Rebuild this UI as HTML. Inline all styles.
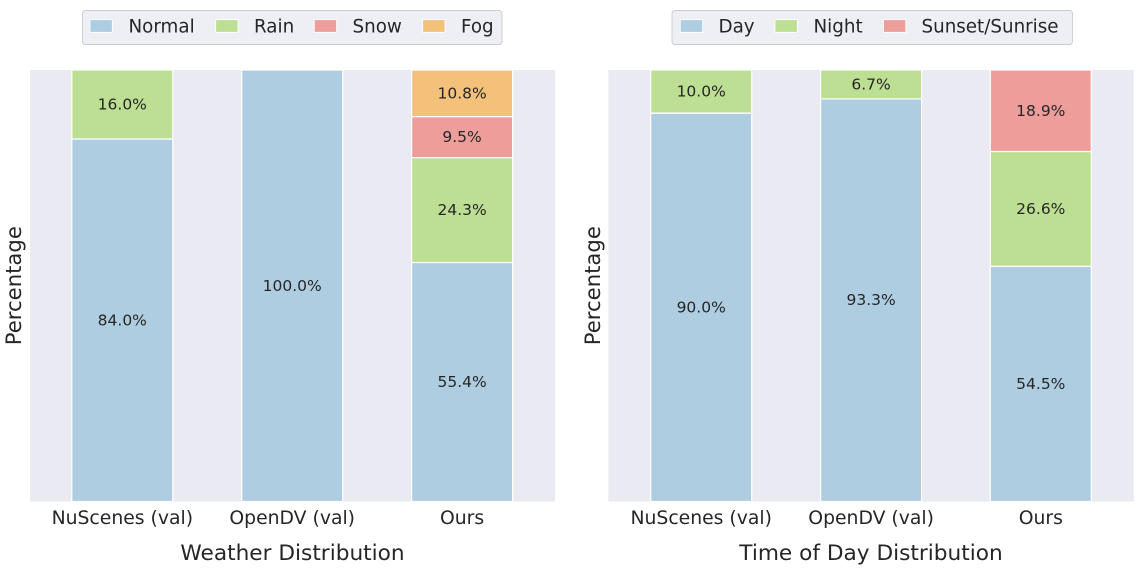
<!DOCTYPE html>
<html>
<head>
<meta charset="utf-8">
<style>
  html, body { margin: 0; padding: 0; background: #ffffff; }
  svg { display: block; }
  text { font-family: "DejaVu Sans", "Liberation Sans", sans-serif; fill: #262626; }
</style>
</head>
<body>
<svg width="1140" height="570" viewBox="0 0 1140 570" xmlns="http://www.w3.org/2000/svg">
  <rect x="0" y="0" width="1140" height="570" fill="#ffffff"/>

  <!-- ================= LEFT: Weather ================= -->
  <rect x="30" y="70" width="525" height="431.5" fill="#eaeaf2"/>
  <g stroke="#ffffff" stroke-width="1.2">
    <rect x="71.8" y="139.0" width="101" height="362.5" fill="#aecde1"/>
    <rect x="71.8" y="70" width="101" height="69" fill="#bddf93"/>
    <rect x="241.7" y="70" width="101" height="431.5" fill="#aecde1"/>
    <rect x="411.6" y="262.5" width="101" height="239" fill="#aecde1"/>
    <rect x="411.6" y="157.6" width="101" height="104.9" fill="#bddf93"/>
    <rect x="411.6" y="116.6" width="101" height="41" fill="#ed9e9a"/>
    <rect x="411.6" y="70" width="101" height="46.6" fill="#f4c17b"/>
  </g>
  <g font-size="15.5" text-anchor="middle" dominant-baseline="central">
    <text x="122.3" y="104.5">16.0%</text>
    <text x="122.3" y="320.3">84.0%</text>
    <text x="292.2" y="285.8">100.0%</text>
    <text x="462.1" y="382">55.4%</text>
    <text x="462.1" y="210">24.3%</text>
    <text x="462.1" y="137.1">9.5%</text>
    <text x="462.1" y="93.3">10.8%</text>
  </g>
  <g font-size="18.8" text-anchor="middle">
    <text x="122.3" y="524">NuScenes (val)</text>
    <text x="292.2" y="524">OpenDV (val)</text>
    <text x="462.1" y="524">Ours</text>
  </g>
  <text x="292.5" y="560" font-size="21.65" text-anchor="middle">Weather Distribution</text>
  <text transform="translate(21,285.7) rotate(-90)" font-size="21.2" text-anchor="middle">Percentage</text>

  <rect x="82.5" y="10.5" width="419.5" height="34" rx="3" ry="3" fill="#eeeef5" stroke="#cccccc" stroke-width="0.9"/>
  <g stroke="#ffffff" stroke-width="0.8">
    <rect x="90" y="19.7" width="22.3" height="12.6" fill="#aecde1"/>
    <rect x="215.7" y="19.7" width="22.3" height="12.6" fill="#bddf93"/>
    <rect x="314.3" y="19.7" width="22.3" height="12.6" fill="#ed9e9a"/>
    <rect x="422.7" y="19.7" width="22.3" height="12.6" fill="#f4c17b"/>
  </g>
  <g font-size="18.3">
    <text x="128.5" y="32.3">Normal</text>
    <text x="254" y="32.3">Rain</text>
    <text x="352.5" y="32.3">Snow</text>
    <text x="461" y="32.3">Fog</text>
  </g>

  <!-- ================= RIGHT: Time of Day ================= -->
  <rect x="608.3" y="70" width="525.4" height="431.5" fill="#eaeaf2"/>
  <g stroke="#ffffff" stroke-width="1.2">
    <rect x="650.7" y="113.1" width="101" height="388.4" fill="#aecde1"/>
    <rect x="650.7" y="70" width="101" height="43.1" fill="#bddf93"/>
    <rect x="820.6" y="98.9" width="101" height="402.6" fill="#aecde1"/>
    <rect x="820.6" y="70" width="101" height="28.9" fill="#bddf93"/>
    <rect x="990.3" y="266.3" width="101" height="235.2" fill="#aecde1"/>
    <rect x="990.3" y="151.5" width="101" height="114.8" fill="#bddf93"/>
    <rect x="990.3" y="70" width="101" height="81.5" fill="#ed9e9a"/>
  </g>
  <g font-size="15.5" text-anchor="middle" dominant-baseline="central">
    <text x="701.2" y="91.5">10.0%</text>
    <text x="701.2" y="307.3">90.0%</text>
    <text x="871.1" y="84.5">6.7%</text>
    <text x="871.1" y="300.2">93.3%</text>
    <text x="1040.8" y="383.9">54.5%</text>
    <text x="1040.8" y="208.9">26.6%</text>
    <text x="1040.8" y="110.8">18.9%</text>
  </g>
  <g font-size="18.8" text-anchor="middle">
    <text x="701.2" y="524">NuScenes (val)</text>
    <text x="871.1" y="524">OpenDV (val)</text>
    <text x="1040.8" y="524">Ours</text>
  </g>
  <text x="871" y="560" font-size="21.65" text-anchor="middle">Time of Day Distribution</text>
  <text transform="translate(600,285.7) rotate(-90)" font-size="21.2" text-anchor="middle">Percentage</text>

  <rect x="672" y="10.5" width="400.5" height="34" rx="3" ry="3" fill="#eeeef5" stroke="#cccccc" stroke-width="0.9"/>
  <g stroke="#ffffff" stroke-width="0.8">
    <rect x="680.3" y="19.7" width="22.3" height="12.6" fill="#aecde1"/>
    <rect x="775" y="19.7" width="22.3" height="12.6" fill="#bddf93"/>
    <rect x="883.5" y="19.7" width="22.3" height="12.6" fill="#ed9e9a"/>
  </g>
  <g font-size="18.3">
    <text x="718.5" y="32.3">Day</text>
    <text x="813.5" y="32.3">Night</text>
    <text x="921.5" y="32.3">Sunset/Sunrise</text>
  </g>
</svg>
</body>
</html>
